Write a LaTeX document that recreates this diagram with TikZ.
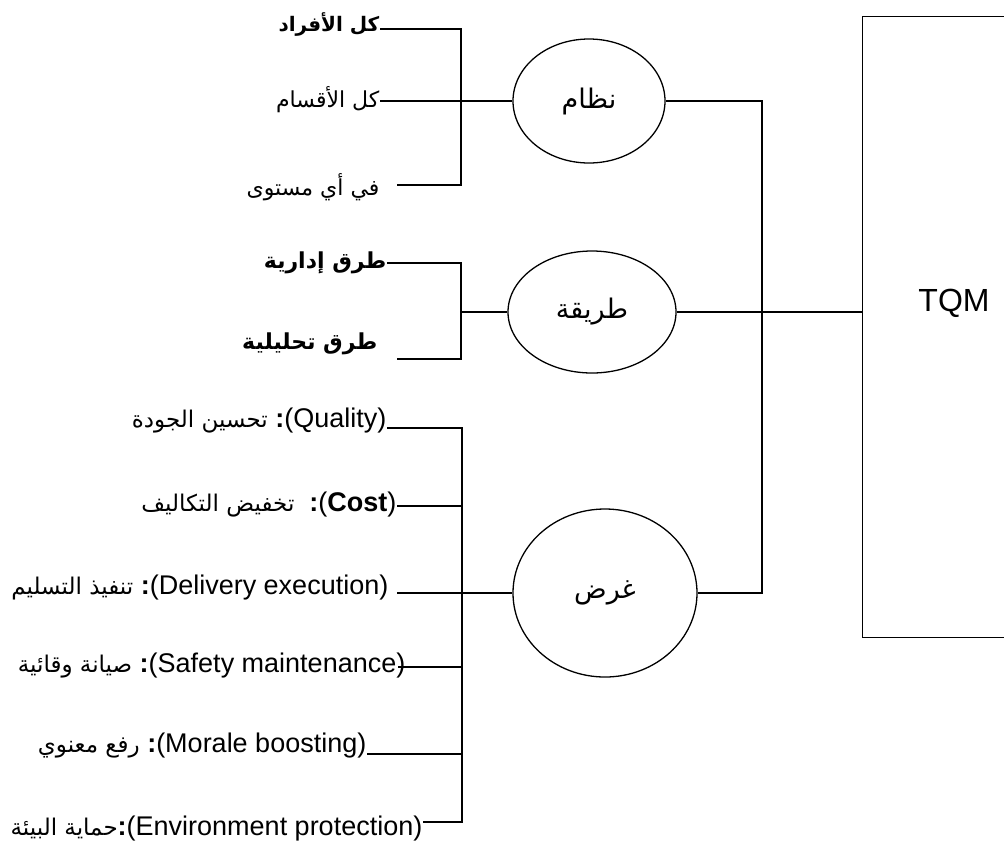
\documentclass[tikz,border=0pt]{standalone}
\usepackage{fontspec}
\setmainfont{Liberation Sans}
\newfontfamily\arabicfont[Script=Arabic]{DejaVu Sans}
\TeXXeTstate=1
\usetikzlibrary{shapes.geometric}
\newcommand\ar[1]{{\arabicfont\beginR #1\endR}}
\newcommand\lt[1]{{\fontsize{27}{31}\selectfont #1}}
\begin{document}
\begin{tikzpicture}[x=1pt,y=-1pt,line width=1.3pt,
  oval/.style={draw, ellipse, inner sep=0pt, font=\fontsize{27}{30}\selectfont\arabicfont},
  item/.style={anchor=east, inner sep=0pt, font=\fontsize{22}{26}\selectfont},
  mixed/.style={anchor=east, inner sep=0pt, font=\fontsize{23}{27}\selectfont},
  wire/.style={draw, line width=1.3pt}]
\useasboundingbox (0,0) rectangle (1004,847);
\clip (0,0) rectangle (1004,847);

% TQM box
\node[draw, anchor=north west, minimum width=220pt, minimum height=621pt, inner sep=0pt] (tqm) at (862,16) {};
\node[font=\fontsize{32}{36}\selectfont, inner sep=0pt] (tqmtext) at (954,303) {TQM};

% ellipses
\node[oval, minimum width=152pt, minimum height=124pt] (nizam) at (589,101) {\ar{نظام}};
\node[oval, minimum width=168pt, minimum height=122pt] (tariqa) at (592,312) {\ar{طريقة}};
\node[oval, minimum width=184pt, minimum height=168pt] (gharad) at (605,593) {\ar{غرض}};

% trunk
\coordinate (trunk) at (762,0);
\draw[wire] (nizam.east) -- (nizam.east -| trunk) -- (gharad.east -| trunk) -- (gharad.east);
\draw[wire] (tariqa.east) -- (tariqa.east -| tqm.west);

% bracket 1
\node[item, font=\fontsize{20}{24}\selectfont] (a1) at (380,24) {\ar{\bfseries كل الأفراد}};
\node[item] (a2) at (380,100) {\ar{كل الأقسام}};
\node[item] (a3) at (380,187) {\ar{في أي مستوى}};
\coordinate (s1t) at (461,29);
\coordinate (s1b) at (461,185);
\draw[wire] (a1.east |- s1t) -- (s1t) -- (s1b) -- ([xshift=17pt]a3.east |- s1b);
\draw[wire] (a2.east |- nizam.west) -- (nizam.west);

% bracket 2
\node[item] (b1) at (387,263) {\ar{\bfseries طرق إدارية}};
\node[item] (b2) at (378,344) {\ar{\bfseries طرق تحليلية}};
\coordinate (s2t) at (461,263);
\coordinate (s2b) at (461,359);
\draw[wire] (b1.east |- s2t) -- (s2t) -- (s2b) -- ([xshift=19pt]b2.east |- s2b);
\draw[wire] (tariqa.west -| s2t) -- (tariqa.west);

% bracket 3
\node[mixed] (c1) at (387,421) {\ar{تحسين الجودة}\lt{ \textbf{:}(Quality)}};
\node[mixed] (c2) at (397,505) {\ar{تخفيض التكاليف}\lt{\ \ \textbf{:}(\textbf{Cost})}};
\node[mixed] (c3) at (389,588) {\ar{تنفيذ التسليم}\lt{ \textbf{:}(Delivery execution)}};
\node[mixed] (c4) at (406,666) {\ar{صيانة وقائية}\lt{ \textbf{:}(Safety maintenance)}};
\node[mixed] (c5) at (367,746) {\ar{رفع معنوي}\lt{ \textbf{:}(Morale boosting)}};
\node[mixed] (c6) at (423,829) {\ar{حماية البيئة}\lt{\textbf{:}(Environment protection)}};
\coordinate (s3t) at (462,428);
\coordinate (s3b) at (462,822);
\draw[wire] (c1.east |- s3t) -- (s3t) -- (s3b) -- (c6.east |- s3b);
\draw[wire] (c2.east |- 0,506) -- (s3t |- 0,506);
\draw[wire] ([xshift=8pt]c3.east |- gharad.west) -- (gharad.west);
\draw[wire] ([xshift=-8pt]c4.east |- 0,667) -- (s3t |- 0,667);
\draw[wire] (c5.east |- 0,754) -- (s3t |- 0,754);
\end{tikzpicture}
\end{document}
